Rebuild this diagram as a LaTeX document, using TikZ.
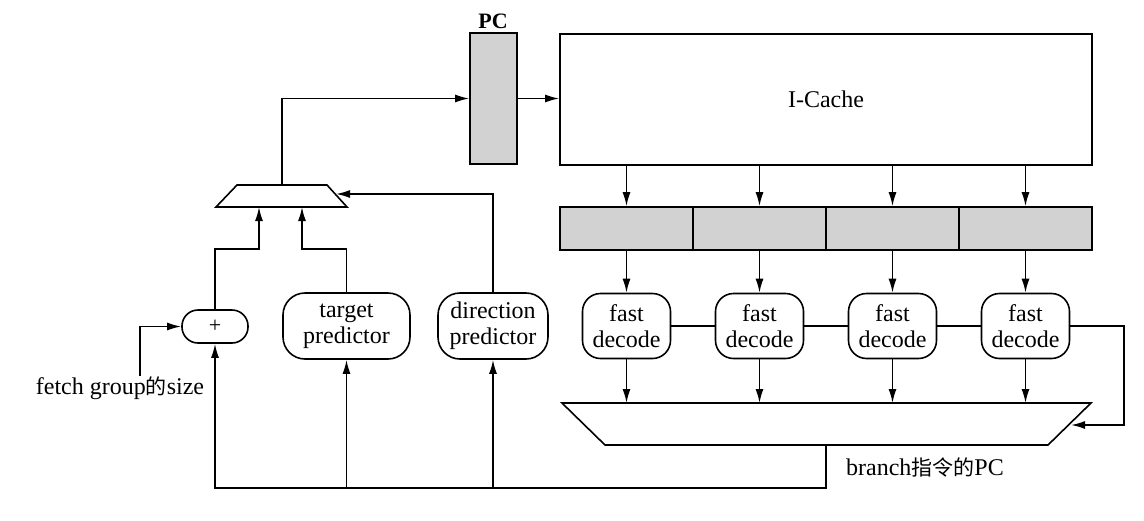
\documentclass[tikz,border=0pt]{standalone}
\usepackage{fontspec}
\setmainfont{Liberation Serif}
\newfontfamily\cjk{Noto Sans CJK SC}
\usetikzlibrary{arrows.meta}
\begin{document}
\begin{tikzpicture}[x=1pt,y=-1pt,
  line width=1.6pt,
  arr/.style={-{Latex[length=14pt,width=8pt]}},
  reg/.style={draw, fill=gray!35, inner sep=0pt},
  lbl/.style={font=\fontsize{24}{26}\selectfont, inner sep=0pt},
  rbox/.style={draw, rounded corners=18pt, align=center, inner sep=0pt, font=\fontsize{24}{26}\selectfont}
]
\useasboundingbox (0,0) rectangle (1144,520);

% PC register and I-Cache
\node[reg, minimum width=47pt, minimum height=131pt] (pc) at (493.5,98.5) {};
\node[lbl, font=\bfseries\fontsize{22}{24}\selectfont] (pclbl) at (493,21) {PC};
\node[draw, lbl, minimum width=532pt, minimum height=131pt] (ic) at (826,99.5) {I-Cache};

% fetch registers and fast decoders
\foreach \i/\x in {1/626.5,2/759.5,3/892.5,4/1025.5}{
  \node[reg, minimum width=133pt, minimum height=43pt] (r\i) at (\x,228.5) {};
  \node[rbox, minimum width=88pt, minimum height=65pt] (fd\i) at (\x,326) {fast\\decode};
}

% big selector
\coordinate (bmTL) at (562,403);
\coordinate (bmTR) at (1091,403);
\coordinate (bmBR) at (1048,445);
\coordinate (bmBL) at (605,445);
\coordinate (bmout) at (826,445);
\coordinate (bmin) at (1071,425);
\draw (bmTL) -- (bmTR) -- (bmBR) -- (bmBL) -- cycle;

% small mux
\coordinate (smTL) at (237,185);
\coordinate (smTR) at (327,185);
\coordinate (smBR) at (347,207);
\coordinate (smBL) at (216,207);
\coordinate (smout) at (282,185);
\coordinate (smin1) at (259,207);
\coordinate (smin2) at (302,207);
\coordinate (smin3) at (336,194);
\draw (smTL) -- (smTR) -- (smBR) -- (smBL) -- cycle;

% predictors and adder
\node[draw, rounded corners=16pt, minimum width=66pt, minimum height=33pt, inner sep=0pt, font=\fontsize{22}{24}\selectfont] (plus) at (215,326.5) {+};
\node[rbox, rounded corners=22pt, minimum width=127pt, minimum height=66pt] (tp) at (346.5,326) {target\\predictor};
\node[rbox, rounded corners=22pt, minimum width=110pt, minimum height=66pt] (dp) at (493,326) {direction\\predictor};

% labels
\node[lbl] (fs) at (120,388) {fetch group{\cjk\fontsize{21}{24}\selectfont 的}size};
\node[lbl] (bl) at (925,468) {branch{\cjk\fontsize{21}{24}\selectfont 指令的}PC};

% helper coordinates
\coordinate (jog) at (0,249);
\coordinate (bot) at (826,488);
\coordinate (fsx) at (140,0);
\coordinate (rt) at (1124,0);

% connectors
\draw[arr] (smout) |- (pc.west);
\draw[arr] (pc.east) -- (ic.west |- pc.east);
\foreach \i in {1,2,3,4}{
  \draw[arr] (ic.south -| r\i.north) -- (r\i.north);
  \draw[arr] (r\i.south) -- (fd\i.north);
  \draw[arr] (fd\i.south) -- (fd\i.south |- bmTL);
}
\draw (fd1) -- (fd2) -- (fd3) -- (fd4);
\draw[arr] (fd4.east) -- (fd4.east -| rt) |- (bmin);
\draw[arr] (bmout) -- (bot) -| (plus.south);
\draw[arr] (tp.south |- bot) -- (tp.south);
\draw[arr] (dp.south |- bot) -- (dp.south);
\draw[arr] (plus.north) -- (plus.north |- jog) -| (smin1);
\draw[arr] (tp.north) -- (tp.north |- jog) -| (smin2);
\draw[arr] (dp.north) |- (smin3);
\draw[arr] (fs.north -| fsx) |- (plus.west);
\end{tikzpicture}
\end{document}
